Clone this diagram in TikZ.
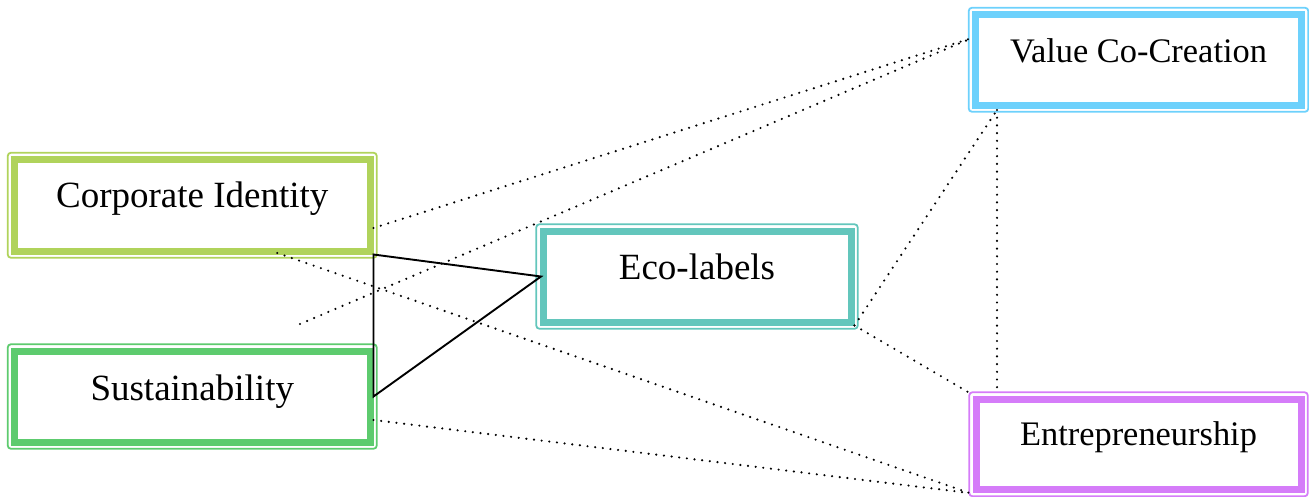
\documentclass[tikz,border=0pt]{standalone}
\usepackage{fontspec}
\setmainfont{Liberation Serif}
\usetikzlibrary{calc}

\definecolor{idgreen}{RGB}{176,211,91}
\definecolor{susgreen}{RGB}{93,203,110}
\definecolor{ecoteal}{RGB}{99,198,188}
\definecolor{valblue}{RGB}{109,209,252}
\definecolor{entpurple}{RGB}{213,124,249}

\tikzset{
  conceptbox/.style={rectangle, draw=#1, line width=7pt, inner sep=0pt, align=center},
  bigtext/.style={font=\fontsize{37pt}{40pt}\selectfont},
  smalltext/.style={font=\fontsize{34.4pt}{38pt}\selectfont},
  dotline/.style={line width=2.4pt, line cap=round, dash pattern=on 0pt off 7.7pt},
  tri/.style={line width=1.9pt, line join=miter}
}

% thin rounded frame drawn just outside a box's thick border
\newcommand\outerframe[2]{%
  \draw[#2, line width=1.8pt, rounded corners=3pt]
    ($(#1.north west)+(-3.2,-3.2)$) rectangle ($(#1.south east)+(3.2,3.2)$);}

\begin{document}
\begin{tikzpicture}[x=1pt, y=-1pt]
  \useasboundingbox (0,0) rectangle (1309,496);

  % concept boxes
  \node[conceptbox=idgreen, bigtext, minimum width=355.5pt, minimum height=91.5pt,
        text height=26pt, text depth=22.5pt] (ci) at (192.25,205.25) {Corporate Identity};
  \node[conceptbox=susgreen, bigtext, minimum width=355.5pt, minimum height=91pt,
        text height=26pt, text depth=19pt] (su) at (192.25,396.5) {Sustainability};
  \node[conceptbox=ecoteal, bigtext, minimum width=308pt, minimum height=91pt,
        text height=26pt, text depth=21pt] (ec) at (697,276.5) {Eco-labels};
  \node[conceptbox=valblue, smalltext, minimum width=326pt, minimum height=90.5pt,
        text height=26pt, text depth=21.5pt] (vc) at (1138.5,59.75) {Value Co-Creation};
  \node[conceptbox=entpurple, smalltext, minimum width=325pt, minimum height=90.5pt,
        text height=26pt, text depth=24.5pt] (en) at (1138.5,444.25) {Entrepreneurship};

  \outerframe{ci}{idgreen}
  \outerframe{su}{susgreen}
  \outerframe{ec}{ecoteal}
  \outerframe{vc}{valblue}
  \outerframe{en}{entpurple}

  % loose end of one dotted link
  \coordinate (stub) at (300,324);

  % dotted links
  \draw[dotline] ($(ci.east)+(0,22.75)$) -- ($(vc.west)+(0,-21.75)$);
  \draw[dotline] (stub) -- ($(vc.west)+(0,-21.75)$);
  \draw[dotline] ($(ci.south)+(85,-1.5)$) -- ($(en.south west)+(-3,0)$);
  \draw[dotline] ($(su.east)+(0,23.5)$) -- ($(en.south west)+(-3,0)$);
  \draw[dotline] (ec.south east) -- ($(vc.south west)+(25,1.5)$);
  \draw[dotline] (ec.south east) -- ($(en.north west)+(-2,-2)$);
  \draw[dotline] ($(vc.south west)+(25,1.5)$) -- ($(en.north west)+(24.5,-3)$);

  % solid triangle joining the two left boxes to the eco-labels box
  \draw[tri] (ci.south east) -- ($(ec.west)+(1.5,0)$) -- (su.east) -- cycle;
\end{tikzpicture}
\end{document}
